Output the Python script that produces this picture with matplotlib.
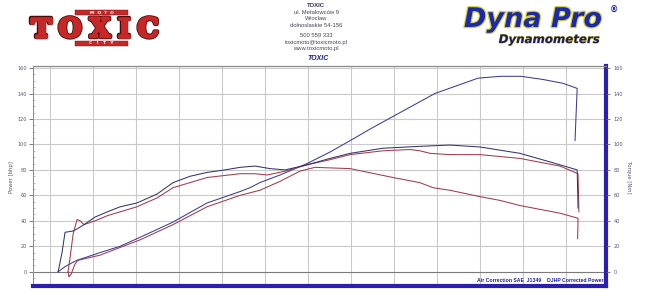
import matplotlib
matplotlib.use("Agg")
import matplotlib.pyplot as plt
import matplotlib.patheffects as pe
from matplotlib.patches import Rectangle
from matplotlib.ticker import MultipleLocator

# ---------------- data (x in rpm) ----------------
torque_navy_rpm = [1190, 1280, 1350, 1540, 1650, 1790, 2050, 2330, 2630, 3020, 3490, 3860, 4260, 4650,
                   5070, 5420, 5770, 6120, 6470, 6980, 7510, 7980, 8740, 9600, 10300, 11000, 11930,
                   12860, 13260, 13280]
torque_navy = [0, 15, 31, 32, 34, 37, 43, 47, 51, 54, 61, 70, 75, 78,
               80, 82, 83, 81, 80, 84, 89, 93, 97, 98.5, 99.5, 98, 93,
               84, 80, 50]

torque_red_rpm = [1420, 1470, 1540, 1630, 1700, 1790, 2050, 2330, 3020, 3490, 3860, 4650, 5420, 5770,
                  6050, 6470, 6980, 7510, 7980, 8740, 9370, 9600, 9840, 10300, 11000, 11930, 12860,
                  13280, 13300]
torque_red = [0, 12, 30, 41, 40, 37, 40, 44, 51, 58, 66, 74, 77, 77,
              76, 79, 84, 88, 92, 95, 96, 95, 93, 92, 92, 89, 83,
              77, 47]

power_blue_rpm = [1190, 1350, 1510, 1630, 2160, 2630, 3090, 3860, 4650, 5420, 5650, 5880, 6350, 6980,
                  7510, 7980, 8440, 9140, 9950, 10950, 11470, 11950, 12470, 12930, 13260, 13230, 13210]
power_blue = [0, 4, 7, 9, 15, 20, 27, 39, 54, 63, 66, 70, 76, 85,
              94, 103, 112, 125, 140, 152, 153.5, 153.5, 151, 148, 144, 120, 103]

power_red_rpm = [1420, 1440, 1490, 1580, 1650, 2160, 3090, 3860, 4650, 5420, 5650, 5880, 6350, 6810,
                 7160, 7980, 8980, 9600, 9910, 10300, 11000, 11470, 11930, 12860, 13280, 13270]
power_red = [0, -4, -2, 6, 9, 13, 25, 37, 51, 60, 62, 64, 71, 79,
             82, 81, 74, 70, 66, 64, 59, 56, 52, 46, 42, 26]

y_ticks = [0, 20, 40, 60, 80, 100, 120, 140, 160]
x_grid = [1000, 2000, 3000, 4000, 5000, 6000, 7000, 8000, 9000, 10000, 11000, 12000, 13000]

header_lines = ["ul. Metalowców 9", "Wroclaw", "dolnoslaskie 54-156", "",
                "500 559 333", "toxicmoto@toxicmoto.pl", "www.toxicmoto.pl"]

# ---------------- figure ----------------
W, H = 659, 292
fig = plt.figure(figsize=(W / 100, H / 100), dpi=100)
fig.patch.set_facecolor("white")

def fx(px):
    return px / W

def fy(py):
    return 1 - py / H

ax_left, ax_right, ax_top, ax_bot = 33, 606, 66, 285.5
ax = fig.add_axes([fx(ax_left), fy(ax_bot), (ax_right - ax_left) / W, (ax_bot - ax_top) / H])
ax.set_xlim(605, 13930)
ax.set_ylim(-10.8, 161.6)

navy = "#34346e"
blue = "#3c3c8e"
red = "#a23a4a"
gridc = "#c9c9c9"

for xv in x_grid:
    ax.axvline(xv, color=gridc, lw=0.8, zorder=1)
for yv in y_ticks:
    ax.axhline(yv, color="#7a7a7a" if yv == 0 else gridc, lw=0.8, zorder=1)

ax.plot(power_red_rpm, power_red, color=red, lw=0.75, zorder=3)
ax.plot(power_blue_rpm, power_blue, color=blue, lw=0.75, zorder=3)
ax.plot(torque_red_rpm, torque_red, color=red, lw=0.75, zorder=3)
ax.plot(torque_navy_rpm, torque_navy, color=navy, lw=0.75, zorder=4)

ax.set_xticks([])
ax.set_yticks(y_ticks)
ax.yaxis.set_minor_locator(MultipleLocator(5))
ax.tick_params(axis="y", which="major", direction="out", length=3, width=0.6,
               colors="#666666", labelsize=3.6, pad=1.5)
ax.tick_params(axis="y", which="minor", direction="in", length=1.5, width=0.4, colors="#888888")
for lab in ax.get_yticklabels():
    lab.set_color("#555577")

bandc = "#2a1fb0"
ax.spines["left"].set_color("#8a8a8a")
ax.spines["left"].set_linewidth(0.7)
ax.spines["top"].set_color("#8a8a8a")
ax.spines["top"].set_linewidth(0.9)
ax.spines["bottom"].set_color(bandc)
ax.spines["bottom"].set_linewidth(3.0)
ax.spines["right"].set_color(bandc)
ax.spines["right"].set_linewidth(3.0)

ax2 = ax.twinx()
ax2.set_ylim(ax.get_ylim())
ax2.set_yticks(y_ticks)
ax2.tick_params(axis="y", direction="out", length=3, width=0.6, colors="#666666",
                labelsize=3.6, pad=2.5)
for lab in ax2.get_yticklabels():
    lab.set_color("#555577")
for s in ax2.spines.values():
    s.set_visible(False)

fig.text(fx(11), fy(177), "Power [bhp]", rotation=90, ha="center", va="center",
         fontsize=3.8, color="#555577")
fig.text(fx(629), fy(177), "Torque [Nm]", rotation=270, ha="center", va="center",
         fontsize=3.8, color="#555577")

fig.text(fx(477), fy(281), "Air Correction SAE  J1349", ha="left", va="center",
         fontsize=3.7, fontweight="bold", color="#2020a8", family="Liberation Sans")
fig.text(fx(547), fy(281), "DJHP Corrected Power", ha="left", va="center",
         fontsize=3.7, fontweight="bold", color="#2020a8", family="Liberation Sans")

# ---------------- header: TOXIC logo ----------------
logo_red = "#c62828"
for (y0, word) in [(10.5, "M  O  T  O"), (41.0, "C   I   T   Y")]:
    fig.patches.append(Rectangle((fx(75), fy(y0 + 4.5)), 53 / W, 4.5 / H, transform=fig.transFigure,
                                 facecolor=logo_red, edgecolor="#6a1010", lw=0.3))
    fig.text(fx(101.5), fy(y0 + 2.25), word, ha="center", va="center", fontsize=3.2,
             color="white", fontweight="bold", family="DejaVu Sans")
for letter, cx in zip("TOXIC", [41, 70, 100, 124, 148]):
    fig.text(fx(cx), fy(37), letter, ha="center", va="baseline", fontsize=19,
             fontweight="bold", family="DejaVu Serif", color=logo_red,
             path_effects=[pe.Stroke(linewidth=3.2, foreground="#4a0a0a"),
                           pe.Stroke(linewidth=2.0, foreground=logo_red),
                           pe.Normal()])

# ---------------- header: address block ----------------
fig.text(fx(316), fy(5.5), "TOXIC", ha="center", va="center", fontsize=4.3,
         fontweight="bold", color="#333355", family="Liberation Sans")
yy = 12.5
for line in header_lines:
    if line:
        fig.text(fx(316), fy(yy), line, ha="center", va="center", fontsize=4.2,
                 color="#444455", family="Liberation Sans")
    yy += 6.3 if line else 4.5
fig.text(fx(318), fy(58), "TOXIC", ha="center", va="center", fontsize=5,
         fontweight="bold", fontstyle="italic", color="#1a237e", family="Liberation Sans")

# ---------------- header: Dyna Pro logo ----------------
fig.text(fx(533), fy(27), "Dyna Pro", ha="center", va="baseline", fontsize=19.5,
         fontweight="bold", fontstyle="italic", color="#1a2aa8", family="DejaVu Sans",
         path_effects=[pe.withStroke(linewidth=1.8, foreground="#d9cf3a")])
fig.text(fx(614), fy(10), "®", ha="center", va="center", fontsize=6,
         fontweight="bold", color="#1a2aa8")
fig.text(fx(549), fy(43), "Dynamometers", ha="center", va="baseline", fontsize=8.5,
         fontweight="bold", fontstyle="italic", color="#1a1a6e", family="DejaVu Sans",
         path_effects=[pe.withStroke(linewidth=0.7, foreground="#d9cf3a")])

fig.savefig("out.png", dpi=100, facecolor="white")
